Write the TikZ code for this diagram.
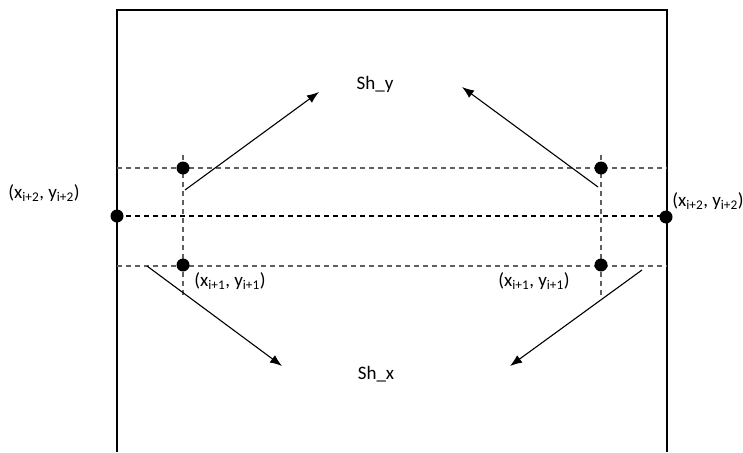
\documentclass[tikz,border=0pt]{standalone}
\usepackage{fontspec}
\setmainfont{Carlito}
\usetikzlibrary{arrows.meta}
\begin{document}
\begin{tikzpicture}[x=1pt,y=-1pt,font=\fontsize{19}{22}\selectfont,
    dot/.style={circle,fill,inner sep=0pt,minimum size=13pt},
    grid/.style={dash pattern=on 5pt off 4pt,gray!75!black,line width=1.2pt},
    mid/.style={dash pattern=on 5pt off 4pt,black,line width=1.2pt},
    shiftarrow/.style={-{Latex[length=12pt,width=9pt]},line width=1.1pt},
    lbl/.style={inner sep=0pt}]
    \useasboundingbox (0,0) rectangle (743,452);

    % frame, open at the bottom
    \coordinate (bl) at (117,452);
    \coordinate (tl) at (117,10);
    \coordinate (tr) at (667,10);
    \coordinate (br) at (667,452);
    \draw[line width=2.2pt] (bl) -- (tl) -- (tr) -- (br);

    % dashed lines
    \coordinate (h1l) at (117,168);
    \coordinate (h1r) at (667,168);
    \coordinate (h2l) at (117,216);
    \coordinate (h2r) at (667,216);
    \coordinate (h3l) at (117,266);
    \coordinate (h3r) at (667,266);
    \coordinate (v1t) at (183,155);
    \coordinate (v1b) at (183,296);
    \coordinate (v2t) at (601,155);
    \coordinate (v2b) at (601,296);
    \draw[grid] (h1l) -- (h1r);
    \draw[grid] (h3l) -- (h3r);
    \draw[grid] (v1t) -- (v1b);
    \draw[grid] (v2t) -- (v2b);
    \draw[mid] (h2l) -- (h2r);

    % points
    \node[dot] (p1) at (183,168) {};
    \node[dot] (p2) at (183,265) {};
    \node[dot] (p3) at (601,168) {};
    \node[dot] (p4) at (601,265) {};
    \node[dot] (p5) at (117,216) {};
    \node[dot] (p6) at (666,217) {};

    % labels
    \node[lbl] (shy) at (375,84) {Sh\_y};
    \node[lbl] (shx) at (376,374) {Sh\_x};
    \node[lbl] (l1) at (44,193) {(x\textsubscript{i+2}, y\textsubscript{i+2})};
    \node[lbl] (l2) at (708,201) {(x\textsubscript{i+2}, y\textsubscript{i+2})};
    \node[lbl] (l3) at (230,281) {(x\textsubscript{i+1}, y\textsubscript{i+1})};
    \node[lbl] (l4) at (534,281) {(x\textsubscript{i+1}, y\textsubscript{i+1})};

    % shift arrows
    \coordinate (a1) at (185,190);
    \coordinate (b1) at (319,92);
    \coordinate (a2) at (598,187);
    \coordinate (b2) at (462,87);
    \coordinate (a3) at (147,266);
    \coordinate (b3) at (282,366);
    \coordinate (a4) at (642,270);
    \coordinate (b4) at (510,366);
    \draw[shiftarrow] (a1) -- (b1);
    \draw[shiftarrow] (a2) -- (b2);
    \draw[shiftarrow] (a3) -- (b3);
    \draw[shiftarrow] (a4) -- (b4);
\end{tikzpicture}
\end{document}
